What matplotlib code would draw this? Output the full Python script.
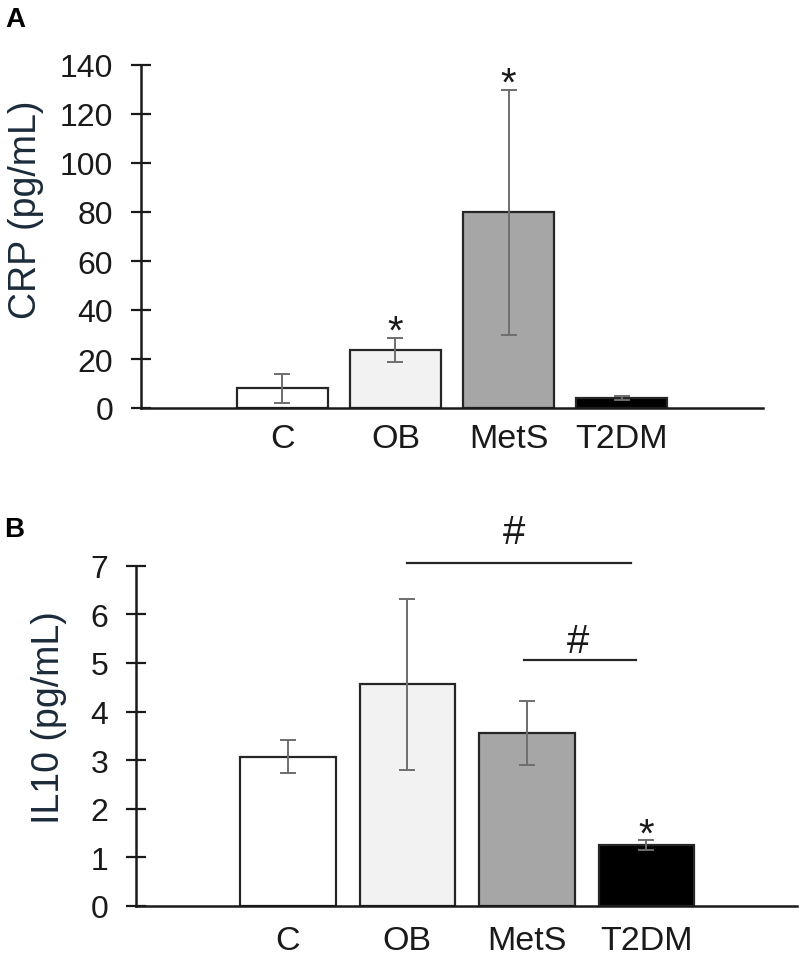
import matplotlib.pyplot as plt

groups = ["C", "OB", "MetS", "T2DM"]
bar_colors = ["white", "#f2f2f2", "#a6a6a6", "black"]

crp_mean = [8.0, 23.7, 80.0, 4.1]
crp_err = [5.8, 4.9, 50.0, 0.9]
crp_star = [False, True, True, False]

il10_mean = [3.07, 4.56, 3.56, 1.25]
il10_err = [0.34, 1.76, 0.66, 0.10]
il10_star = [False, False, False, True]

# "#" comparisons in panel B: line start, line end, line height, label x, label y
il10_hash = [(1.0, 2.87, 7.05, 1.89, 7.47),
             (1.98, 2.91, 5.06, 2.43, 5.23)]

plt.rcParams["font.family"] = ["Liberation Sans", "DejaVu Sans"]

fig = plt.figure(figsize=(8, 9.62), dpi=100)
axA = fig.add_axes([141 / 800, 1 - 409 / 962, 622 / 800, 343 / 962])
axB = fig.add_axes([136 / 800, 1 - 907 / 962, 661 / 800, 340.3 / 962])


def panel(ax, means, errs, stars, ymax, ystep, xlim, label, xpad):
    x = list(range(len(groups)))
    ax.bar(x, means, width=0.8, color=bar_colors, edgecolor="#262626",
           linewidth=1.6, zorder=2)
    ax.errorbar(x, means, yerr=errs, fmt="none", ecolor="#6e6e6e",
                elinewidth=1.4, capsize=6, capthick=1.4, zorder=3)
    for xi, m, e, s in zip(x, means, errs, stars):
        if s:
            ax.annotate("*", (xi, m + e), xytext=(0, -3.5),
                        textcoords="offset points", ha="center", va="baseline",
                        fontsize=29, color="#1a1a1a", annotation_clip=False)
    ax.set_xlim(*xlim)
    ax.set_ylim(0, ymax)
    ax.set_yticks(range(0, ymax + 1, ystep))
    ax.set_xticks(x)
    ax.set_xticklabels(groups)
    for side in ["top", "right"]:
        ax.spines[side].set_visible(False)
    for side in ["left", "bottom"]:
        ax.spines[side].set_linewidth(1.8)
        ax.spines[side].set_color("#1a1a1a")
    ax.tick_params(axis="y", direction="inout", length=15, width=1.6,
                   pad=12.5, labelsize=23, colors="#1a1a1a")
    ax.tick_params(axis="x", length=0, pad=xpad, labelsize=24.5,
                   colors="#1a1a1a")
    ax.set_ylabel(label, fontsize=27, color="#1c2b3a")


panel(axA, crp_mean, crp_err, crp_star, 140, 20, (-1.25, 4.25),
      "CRP (pg/mL)", 11)
panel(axB, il10_mean, il10_err, il10_star, 7, 1, (-1.27, 4.26),
      "IL10 (pg/mL)", 14)

axA.yaxis.set_label_coords(44 / 800, 1 - 210 / 962, transform=fig.transFigure)
axB.yaxis.set_label_coords(67 / 800, 1 - 718 / 962, transform=fig.transFigure)

for x0, x1, y, tx, ty in il10_hash:
    axB.plot([x0, x1], [y, y], color="#262626", linewidth=1.6, clip_on=False)
    axB.text(tx, ty, "#", ha="center", va="baseline", fontsize=29,
             color="#1a1a1a", clip_on=False)

fig.text(5 / 800, 1 - 27 / 962, "A", fontsize=20, fontweight="bold",
         ha="left", va="baseline")
fig.text(4 / 800, 1 - 537 / 962, "B", fontsize=20, fontweight="bold",
         ha="left", va="baseline")

fig.savefig("out.png", dpi=100)
